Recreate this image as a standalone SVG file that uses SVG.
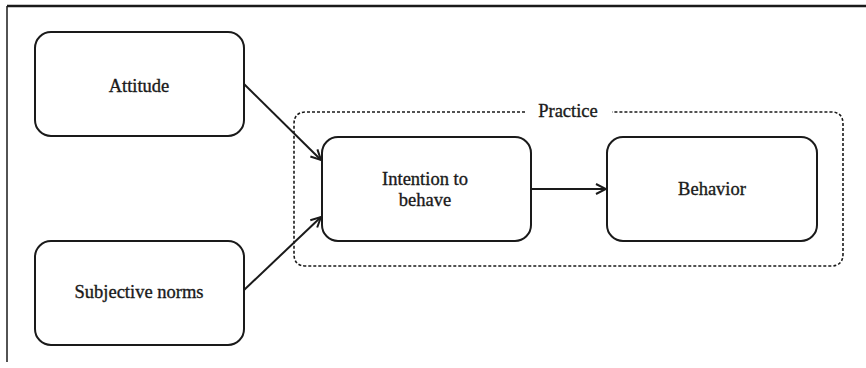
<svg xmlns="http://www.w3.org/2000/svg" width="866" height="368" viewBox="0 0 866 368">
  <style>
    .box { fill: #ffffff; stroke: #1a1a1a; stroke-width: 2; }
    .group { fill: none; stroke: #1a1a1a; stroke-width: 1.6; stroke-dasharray: 3 2; }
    .label { font-family: "Liberation Serif", "Times New Roman", serif; font-size: 18.5px; fill: #1a1a1a; stroke: #1a1a1a; stroke-width: 0.35; text-anchor: middle; }
    .link { fill: none; stroke: #1a1a1a; stroke-width: 2; }
    .frame { stroke: #1a1a1a; fill: none; }
  </style>
  <defs>
    <marker id="arrow" viewBox="0 0 12 12" refX="11" refY="6" markerWidth="12" markerHeight="12" markerUnits="userSpaceOnUse" orient="auto">
      <path d="M1,1 L11,6 L1,11" fill="none" stroke="#1a1a1a" stroke-width="2"/>
    </marker>
  </defs>

  <!-- frame -->
  <line class="frame" x1="7" y1="6" x2="866" y2="6" stroke-width="2.5"/>
  <line class="frame" x1="7" y1="6" x2="7" y2="362" stroke-width="1.5"/>

  <!-- Practice grouping -->
  <g id="practice">
    <path class="group" d="M525,112 H306 Q294,112 294,124 V254 Q294,266 306,266 H831 Q843,266 843,254 V124 Q843,112 831,112 H612"/>
    <text class="label" x="568" y="117">Practice</text>
  </g>

  <g id="attitude">
    <rect class="box" x="35" y="32" width="209" height="104" rx="16"/>
    <text class="label" x="139" y="92">Attitude</text>
  </g>

  <g id="subjective-norms">
    <rect class="box" x="35" y="241" width="209" height="104" rx="16"/>
    <text class="label" x="139" y="298">Subjective norms</text>
  </g>

  <g id="intention">
    <rect class="box" x="322" y="137" width="209" height="104" rx="16"/>
    <text class="label" x="425" y="185">Intention to</text>
    <text class="label" x="425" y="206">behave</text>
  </g>

  <g id="behavior">
    <rect class="box" x="607" y="137" width="210" height="104" rx="16"/>
    <text class="label" x="712" y="195">Behavior</text>
  </g>

  <g id="connectors">
    <line class="link" x1="244" y1="84" x2="321" y2="160" marker-end="url(#arrow)"/>
    <line class="link" x1="244" y1="290" x2="321" y2="217" marker-end="url(#arrow)"/>
    <line class="link" x1="531" y1="189" x2="606" y2="189" marker-end="url(#arrow)"/>
  </g>
</svg>
